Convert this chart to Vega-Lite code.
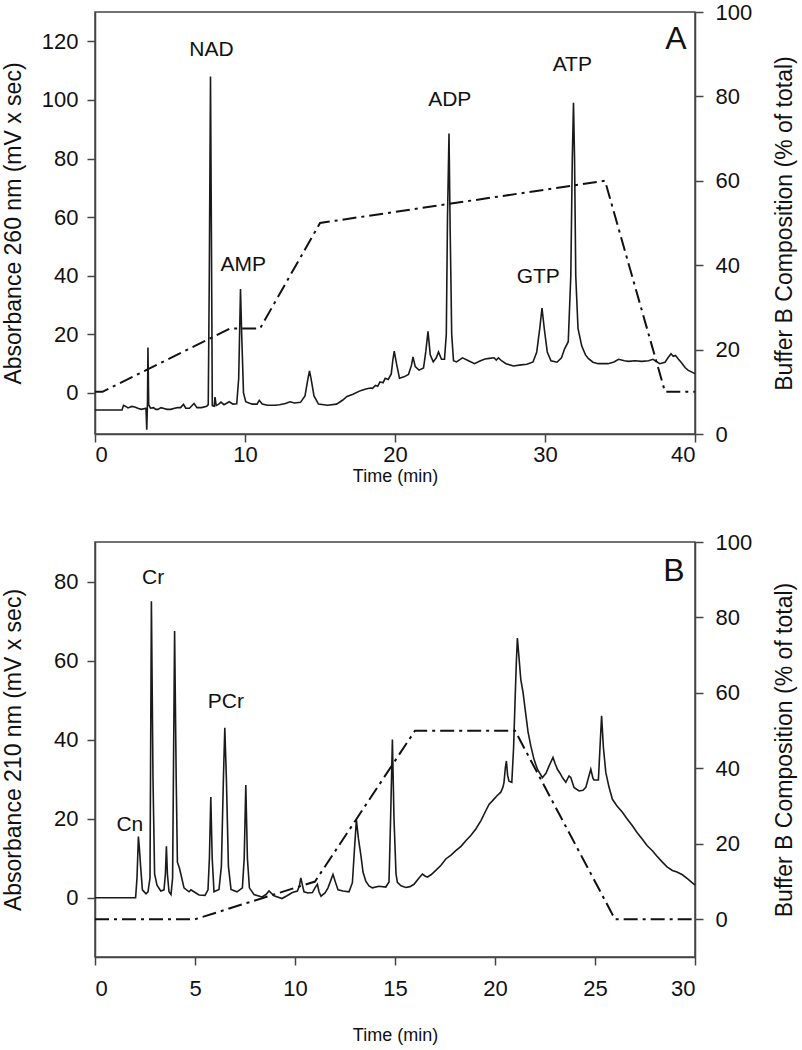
{
  "$schema": "https://vega.github.io/schema/vega-lite/v6.json",
  "padding": {"left": 1, "top": 0, "right": 2, "bottom": 2},
  "background": "white",
  "config": {
    "font": "Liberation Sans",
    "view": {"stroke": "#444", "strokeWidth": 1.5},
    "axis": {"grid": false, "domainColor": "#444", "domainWidth": 1.5, "tickColor": "#444", "tickWidth": 1.5, "tickSize": 8, "labelFontSize": 22, "titleFontSize": 23, "labelColor": "#111", "titleColor": "#111", "titleFontWeight": "normal", "labelFont": "Liberation Sans", "titleFont": "Liberation Sans"},
    "concat": {"spacing": 44}
  },
  "datasets": {
    "chromA": [
      {"t":0,"v":-5.8},{"t":1.8,"v":-5.8},{"t":1.9,"v":-4.2},{"t":2.05,"v":-4.6},{"t":2.2,"v":-5.1},{"t":2.45,"v":-4.6},{"t":2.65,"v":-4.8},{"t":2.9,"v":-5.3},{"t":3.1,"v":-5.6},{"t":3.4,"v":-5.2},{"t":3.45,"v":-12.5},{"t":3.5,"v":-3},{"t":3.53,"v":15.5},{"t":3.58,"v":-4},{"t":3.7,"v":-5.2},{"t":3.9,"v":-5},{"t":4.05,"v":-5.6},{"t":4.2,"v":-5.6},{"t":4.4,"v":-5},{"t":4.6,"v":-5.3},{"t":4.8,"v":-5.6},{"t":5.05,"v":-5.6},{"t":5.3,"v":-5.2},{"t":5.5,"v":-5},{"t":5.7,"v":-5},{"t":5.9,"v":-3.9},{"t":6.05,"v":-5.2},{"t":6.3,"v":-5.2},{"t":6.6,"v":-3.6},{"t":6.8,"v":-5},{"t":7.1,"v":-5},{"t":7.45,"v":-4.5},{"t":7.55,"v":-4},{"t":7.62,"v":40},{"t":7.7,"v":108},{"t":7.76,"v":55},{"t":7.82,"v":-4.3},{"t":7.95,"v":-4.5},{"t":8.0,"v":-1.4},{"t":8.08,"v":-4.3},{"t":8.25,"v":-3.8},{"t":8.4,"v":-3.1},{"t":8.6,"v":-4},{"t":8.95,"v":-3},{"t":9.2,"v":-3.8},{"t":9.45,"v":-3.7},{"t":9.58,"v":5},{"t":9.7,"v":35.5},{"t":9.78,"v":20},{"t":9.9,"v":0},{"t":10.05,"v":-3},{"t":10.3,"v":-3.5},{"t":10.5,"v":-3.8},{"t":10.8,"v":-3.8},{"t":10.95,"v":-2.5},{"t":11.15,"v":-3.8},{"t":11.5,"v":-4.2},{"t":12,"v":-4.2},{"t":12.3,"v":-4},{"t":12.7,"v":-3.6},{"t":13.0,"v":-3},{"t":13.3,"v":-3.4},{"t":13.7,"v":-3.2},{"t":14.0,"v":-1},{"t":14.2,"v":5},{"t":14.3,"v":7.5},{"t":14.4,"v":5},{"t":14.6,"v":-1},{"t":14.9,"v":-3.8},{"t":15.5,"v":-4.2},{"t":16.1,"v":-3.8},{"t":16.5,"v":-2.5},{"t":16.8,"v":-1.2},{"t":17.2,"v":-0.4},{"t":17.7,"v":0.8},{"t":18.0,"v":1.3},{"t":18.35,"v":1.7},{"t":18.5,"v":1.6},{"t":18.7,"v":2.6},{"t":18.85,"v":2.3},{"t":19.0,"v":3.8},{"t":19.2,"v":3.5},{"t":19.35,"v":5},{"t":19.55,"v":4.6},{"t":19.75,"v":6.5},{"t":19.85,"v":11},{"t":19.95,"v":14.3},{"t":20.1,"v":10},{"t":20.3,"v":5},{"t":20.6,"v":5.5},{"t":20.9,"v":6.3},{"t":21.1,"v":9.5},{"t":21.2,"v":12.3},{"t":21.35,"v":9},{"t":21.6,"v":7.8},{"t":21.9,"v":8.5},{"t":22.05,"v":14},{"t":22.2,"v":21},{"t":22.35,"v":13},{"t":22.55,"v":10.6},{"t":22.75,"v":12},{"t":22.9,"v":14},{"t":23.1,"v":11.5},{"t":23.3,"v":11.5},{"t":23.42,"v":20},{"t":23.5,"v":60},{"t":23.6,"v":88.5},{"t":23.68,"v":55},{"t":23.78,"v":20},{"t":23.9,"v":11},{"t":24.1,"v":10.6},{"t":24.5,"v":12},{"t":24.9,"v":11},{"t":25.3,"v":10},{"t":25.7,"v":11},{"t":26.0,"v":11.6},{"t":26.3,"v":11.8},{"t":26.6,"v":12},{"t":26.75,"v":11.2},{"t":26.9,"v":12},{"t":27.1,"v":11},{"t":27.4,"v":10},{"t":27.9,"v":9.2},{"t":28.4,"v":9.6},{"t":28.8,"v":9.8},{"t":29.2,"v":10.6},{"t":29.45,"v":14},{"t":29.65,"v":22},{"t":29.8,"v":29},{"t":29.95,"v":22},{"t":30.15,"v":14},{"t":30.4,"v":11},{"t":30.8,"v":10.5},{"t":31.1,"v":12},{"t":31.3,"v":15},{"t":31.55,"v":17.5},{"t":31.72,"v":40},{"t":31.82,"v":80},{"t":31.9,"v":99},{"t":31.97,"v":80},{"t":32.05,"v":40},{"t":32.2,"v":22},{"t":32.45,"v":16},{"t":32.7,"v":13},{"t":32.9,"v":11.7},{"t":33.2,"v":10.5},{"t":33.55,"v":10},{"t":34.2,"v":10},{"t":34.6,"v":10.6},{"t":34.9,"v":11.5},{"t":35.3,"v":11},{"t":35.55,"v":10.8},{"t":36.0,"v":11},{"t":36.45,"v":10.8},{"t":36.9,"v":11},{"t":37.2,"v":11.5},{"t":37.65,"v":10},{"t":38.0,"v":10.5},{"t":38.2,"v":12},{"t":38.4,"v":13.4},{"t":38.55,"v":12.5},{"t":38.7,"v":12.8},{"t":38.9,"v":11.5},{"t":39.1,"v":10.3},{"t":39.35,"v":8.6},{"t":39.55,"v":7.7},{"t":40,"v":6.6}
    ],
    "gradA": [
      {"t":0,"b":10},{"t":0.5,"b":10},{"t":9,"b":25},{"t":11,"b":25},{"t":15,"b":50},{"t":34,"b":60},{"t":38,"b":10},{"t":40,"b":10}
    ],
    "labelsA": [
      {"t":7.76,"v":117.2,"label":"NAD"},{"t":9.89,"v":43.6,"label":"AMP"},{"t":23.65,"v":100,"label":"ADP"},{"t":29.55,"v":39.6,"label":"GTP"},{"t":31.82,"v":111.8,"label":"ATP"}
    ],
    "panelA": [{"t":38.72,"v":120.9,"label":"A"}],
    "chromB": [
      {"t":0,"v":0},{"t":2.03,"v":0},{"t":2.1,"v":5},{"t":2.17,"v":15.5},{"t":2.22,"v":12.5},{"t":2.28,"v":8},{"t":2.37,"v":2},{"t":2.55,"v":1},{"t":2.65,"v":1.5},{"t":2.75,"v":5},{"t":2.82,"v":75},{"t":2.9,"v":30},{"t":2.98,"v":6},{"t":3.1,"v":3.2},{"t":3.29,"v":1.7},{"t":3.45,"v":2},{"t":3.52,"v":6},{"t":3.57,"v":13},{"t":3.62,"v":6},{"t":3.7,"v":1.5},{"t":3.8,"v":0.8},{"t":3.88,"v":5},{"t":3.98,"v":67.5},{"t":4.06,"v":30},{"t":4.12,"v":9},{"t":4.22,"v":7.5},{"t":4.3,"v":5.8},{"t":4.45,"v":2.5},{"t":4.7,"v":1.5},{"t":4.8,"v":2},{"t":4.95,"v":1.5},{"t":5.2,"v":0.7},{"t":5.5,"v":0.6},{"t":5.65,"v":2},{"t":5.72,"v":10},{"t":5.79,"v":25.5},{"t":5.86,"v":10},{"t":5.95,"v":1.5},{"t":6.2,"v":2.1},{"t":6.32,"v":8},{"t":6.42,"v":30},{"t":6.49,"v":43},{"t":6.57,"v":30},{"t":6.67,"v":8},{"t":6.8,"v":2.1},{"t":7.1,"v":1.5},{"t":7.37,"v":2.5},{"t":7.46,"v":10},{"t":7.54,"v":28.5},{"t":7.62,"v":10},{"t":7.72,"v":2.5},{"t":7.95,"v":0.8},{"t":8.35,"v":0.2},{"t":8.55,"v":0.8},{"t":8.7,"v":1.7},{"t":8.95,"v":0.5},{"t":9.35,"v":-0.2},{"t":9.6,"v":0.5},{"t":9.87,"v":1.3},{"t":10.12,"v":1.7},{"t":10.22,"v":3},{"t":10.29,"v":5},{"t":10.38,"v":3},{"t":10.45,"v":1.5},{"t":10.65,"v":1.2},{"t":10.87,"v":1.3},{"t":11.0,"v":2.5},{"t":11.12,"v":3.4},{"t":11.2,"v":1.5},{"t":11.3,"v":0.4},{"t":11.5,"v":1.2},{"t":11.65,"v":2.5},{"t":11.9,"v":5.9},{"t":12.05,"v":3.5},{"t":12.15,"v":2},{"t":12.4,"v":1.7},{"t":12.7,"v":1.5},{"t":12.87,"v":3.8},{"t":12.97,"v":12},{"t":13.07,"v":19.7},{"t":13.17,"v":15},{"t":13.29,"v":10.9},{"t":13.4,"v":6.5},{"t":13.54,"v":4.2},{"t":13.7,"v":3},{"t":13.87,"v":2.5},{"t":14.2,"v":2.9},{"t":14.54,"v":2.7},{"t":14.7,"v":4},{"t":14.78,"v":20},{"t":14.87,"v":40},{"t":14.95,"v":20},{"t":15.05,"v":6},{"t":15.12,"v":3.9},{"t":15.3,"v":3},{"t":15.54,"v":2.6},{"t":15.75,"v":2.8},{"t":15.95,"v":3.4},{"t":16.2,"v":5},{"t":16.37,"v":6},{"t":16.5,"v":5.5},{"t":16.62,"v":5.2},{"t":16.8,"v":5.8},{"t":17.04,"v":6.9},{"t":17.3,"v":8.2},{"t":17.54,"v":9.8},{"t":17.8,"v":10.8},{"t":18.04,"v":11.9},{"t":18.3,"v":13},{"t":18.54,"v":14.4},{"t":18.8,"v":15.8},{"t":19.04,"v":17.4},{"t":19.3,"v":19.5},{"t":19.54,"v":22},{"t":19.7,"v":23.6},{"t":19.87,"v":24.5},{"t":20.1,"v":25.8},{"t":20.29,"v":26.7},{"t":20.4,"v":28},{"t":20.45,"v":29.2},{"t":20.52,"v":33},{"t":20.57,"v":34.6},{"t":20.63,"v":31},{"t":20.7,"v":29.5},{"t":20.84,"v":29.2},{"t":20.93,"v":38},{"t":21.0,"v":49.3},{"t":21.07,"v":60},{"t":21.12,"v":65.7},{"t":21.18,"v":62},{"t":21.29,"v":55.2},{"t":21.4,"v":52},{"t":21.54,"v":46.4},{"t":21.65,"v":42},{"t":21.79,"v":38.4},{"t":21.95,"v":35},{"t":22.12,"v":32.5},{"t":22.37,"v":30.4},{"t":22.55,"v":31.5},{"t":22.7,"v":33.3},{"t":22.9,"v":35.5},{"t":23.0,"v":34},{"t":23.12,"v":32.5},{"t":23.25,"v":31.5},{"t":23.37,"v":30.4},{"t":23.54,"v":29.2},{"t":23.7,"v":30.8},{"t":23.79,"v":30.4},{"t":23.95,"v":27.9},{"t":24.2,"v":27},{"t":24.4,"v":27.2},{"t":24.54,"v":27.9},{"t":24.68,"v":30.5},{"t":24.79,"v":32.5},{"t":24.9,"v":30.2},{"t":24.95,"v":29.8},{"t":25.17,"v":29.8},{"t":25.25,"v":38},{"t":25.33,"v":46},{"t":25.42,"v":38},{"t":25.54,"v":31.7},{"t":25.7,"v":28},{"t":25.87,"v":24.9},{"t":26.1,"v":23.2},{"t":26.37,"v":21.6},{"t":26.6,"v":20},{"t":26.87,"v":18.2},{"t":27.1,"v":16.5},{"t":27.37,"v":14.8},{"t":27.6,"v":13.2},{"t":27.87,"v":11.9},{"t":28.1,"v":10.5},{"t":28.37,"v":9},{"t":28.6,"v":7.8},{"t":28.87,"v":6.9},{"t":29.1,"v":6.5},{"t":29.37,"v":5.8},{"t":29.65,"v":4.7},{"t":30,"v":3.2}
    ],
    "gradB": [
      {"t":0,"b":0},{"t":5,"b":0},{"t":11,"b":10},{"t":16,"b":50},{"t":21,"b":50},{"t":26,"b":0},{"t":30,"b":0}
    ],
    "labelsB": [
      {"t":2.91,"v":80.8,"label":"Cr"},{"t":6.54,"v":49.6,"label":"PCr"},{"t":1.74,"v":18.3,"label":"Cn"}
    ],
    "panelB": [{"t":28.95,"v":82.6,"label":"B"}]
  },
  "vconcat": [
    {
      "width": 600,
      "height": 422,
      "layer": [
        {
          "layer": [
            {
              "data": {"name": "chromA"},
              "mark": {"type": "line", "color": "#1a1a1a", "strokeWidth": 1.6},
              "encoding": {
                "x": {"field": "t", "type": "quantitative", "scale": {"domain": [0, 40], "nice": false}, "axis": {"values": [0, 10, 20, 30, 40], "title": "Time (min)", "titleFontSize": 18, "labelPadding": 2, "titlePadding": 2}},
                "y": {"field": "v", "type": "quantitative", "scale": {"domain": [-14, 130], "nice": false, "zero": false}, "axis": {"values": [0, 20, 40, 60, 80, 100, 120], "title": "Absorbance 260 nm (mV x sec)", "titlePadding": 16, "labelPadding": 9}}
              }
            },
            {
              "data": {"name": "labelsA"},
              "mark": {"type": "text", "fontSize": 21, "color": "#111", "baseline": "middle", "align": "center"},
              "encoding": {
                "x": {"field": "t", "type": "quantitative"},
                "y": {"field": "v", "type": "quantitative"},
                "text": {"field": "label"}
              }
            },
            {
              "data": {"name": "panelA"},
              "mark": {"type": "text", "fontSize": 32, "color": "#111", "baseline": "middle", "align": "center"},
              "encoding": {
                "x": {"field": "t", "type": "quantitative"},
                "y": {"field": "v", "type": "quantitative"},
                "text": {"field": "label"}
              }
            }
          ]
        },
        {
          "data": {"name": "gradA"},
          "mark": {"type": "line", "color": "#111", "strokeWidth": 2, "strokeDash": [14, 5, 3, 5]},
          "encoding": {
            "x": {"field": "t", "type": "quantitative"},
            "y": {"field": "b", "type": "quantitative", "scale": {"domain": [0, 100], "nice": false}, "axis": {"orient": "right", "values": [0, 20, 40, 60, 80, 100], "title": "Buffer B Composition (% of total)", "titleAngle": 270, "titleBaseline": "top", "titlePadding": 22, "labelPadding": 12}}
          }
        }
      ],
      "resolve": {"scale": {"y": "independent"}}
    },
    {
      "width": 600,
      "height": 415,
      "layer": [
        {
          "layer": [
            {
              "data": {"name": "chromB"},
              "mark": {"type": "line", "color": "#1a1a1a", "strokeWidth": 1.6},
              "encoding": {
                "x": {"field": "t", "type": "quantitative", "scale": {"domain": [0, 30], "nice": false}, "axis": {"values": [0, 5, 10, 15, 20, 25, 30], "title": "Time (min)", "titleFontSize": 18, "labelPadding": 13, "titlePadding": 27}},
                "y": {"field": "v", "type": "quantitative", "scale": {"domain": [-15, 90], "nice": false, "zero": false}, "axis": {"values": [0, 20, 40, 60, 80], "title": "Absorbance 210 nm (mV x sec)", "titlePadding": 28, "labelPadding": 9}}
              }
            },
            {
              "data": {"name": "labelsB"},
              "mark": {"type": "text", "fontSize": 21, "color": "#111", "baseline": "middle", "align": "center"},
              "encoding": {
                "x": {"field": "t", "type": "quantitative"},
                "y": {"field": "v", "type": "quantitative"},
                "text": {"field": "label"}
              }
            },
            {
              "data": {"name": "panelB"},
              "mark": {"type": "text", "fontSize": 32, "color": "#111", "baseline": "middle", "align": "center"},
              "encoding": {
                "x": {"field": "t", "type": "quantitative"},
                "y": {"field": "v", "type": "quantitative"},
                "text": {"field": "label"}
              }
            }
          ]
        },
        {
          "data": {"name": "gradB"},
          "mark": {"type": "line", "color": "#111", "strokeWidth": 2, "strokeDash": [14, 5, 3, 5]},
          "encoding": {
            "x": {"field": "t", "type": "quantitative"},
            "y": {"field": "b", "type": "quantitative", "scale": {"domain": [-10, 100], "nice": false}, "axis": {"orient": "right", "values": [0, 20, 40, 60, 80, 100], "title": "Buffer B Composition (% of total)", "titleAngle": 270, "titleBaseline": "top", "titlePadding": 22, "labelPadding": 12}}
          }
        }
      ],
      "resolve": {"scale": {"y": "independent"}}
    }
  ]
}
